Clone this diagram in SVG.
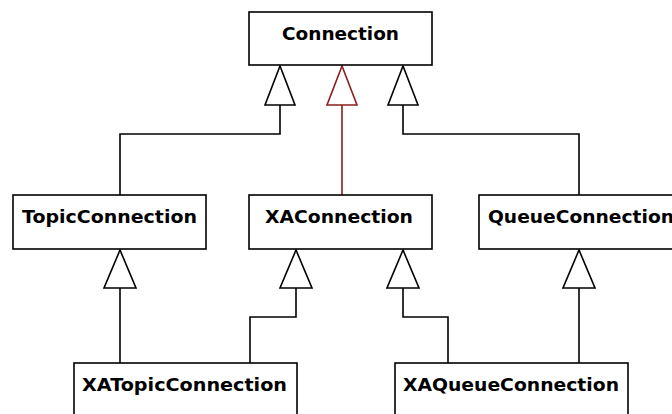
<svg xmlns="http://www.w3.org/2000/svg" width="672" height="414" viewBox="0 0 672 414">
<style>
.box{fill:#fff;stroke:#000;stroke-width:1.6}
.lbl{font-family:"DejaVu Sans","Liberation Sans",sans-serif;font-weight:bold;font-size:18px;fill:#000}
.ln{fill:none;stroke:#000;stroke-width:1.6}
.red{fill:none;stroke:#8b1f1f;stroke-width:1.6}
.tri{fill:#fff;stroke:#000;stroke-width:1.6}
.trir{fill:#fff;stroke:#8b1f1f;stroke-width:1.6}
</style>
<rect width="672" height="414" fill="#fff"/>
<g id="connectors">
<path class="ln" d="M280,105 V134 H120 V195"/>
<path class="red" d="M342,105 V195"/>
<path class="ln" d="M403,105 V134 H579 V195"/>
<path class="ln" d="M120,288 V363"/>
<path class="ln" d="M296,288 V317 H250 V363"/>
<path class="ln" d="M403,288 V317 H448 V363"/>
<path class="ln" d="M579,288 V363"/>
<polygon class="tri" points="280,66 265,105 295,105"/>
<polygon class="trir" points="342,66 327,105 357,105"/>
<polygon class="tri" points="403,66 388,105 418,105"/>
<polygon class="tri" points="120,250 104,288 136,288"/>
<polygon class="tri" points="296,250 280,288 312,288"/>
<polygon class="tri" points="403,250 387,288 419,288"/>
<polygon class="tri" points="579,250 563,288 595,288"/>
</g>
<g id="Connection">
<rect class="box" x="249" y="12" width="183" height="53"/>
<text class="lbl" x="282" y="40" textLength="117" lengthAdjust="spacingAndGlyphs">Connection</text>
</g>
<g id="TopicConnection">
<rect class="box" x="13" y="195" width="193" height="54"/>
<text class="lbl" x="22" y="223" textLength="175" lengthAdjust="spacingAndGlyphs">TopicConnection</text>
</g>
<g id="XAConnection">
<rect class="box" x="249" y="195" width="183" height="54"/>
<text class="lbl" x="265" y="223" textLength="148" lengthAdjust="spacingAndGlyphs">XAConnection</text>
</g>
<g id="QueueConnection">
<rect class="box" x="479" y="195" width="220" height="54"/>
<text class="lbl" x="488" y="223" textLength="186" lengthAdjust="spacingAndGlyphs">QueueConnection</text>
</g>
<g id="XATopicConnection">
<rect class="box" x="74" y="363" width="223" height="70"/>
<text class="lbl" x="82" y="391" textLength="205" lengthAdjust="spacingAndGlyphs">XATopicConnection</text>
</g>
<g id="XAQueueConnection">
<rect class="box" x="395" y="363" width="233" height="70"/>
<text class="lbl" x="403" y="391" textLength="216" lengthAdjust="spacingAndGlyphs">XAQueueConnection</text>
</g>
</svg>
